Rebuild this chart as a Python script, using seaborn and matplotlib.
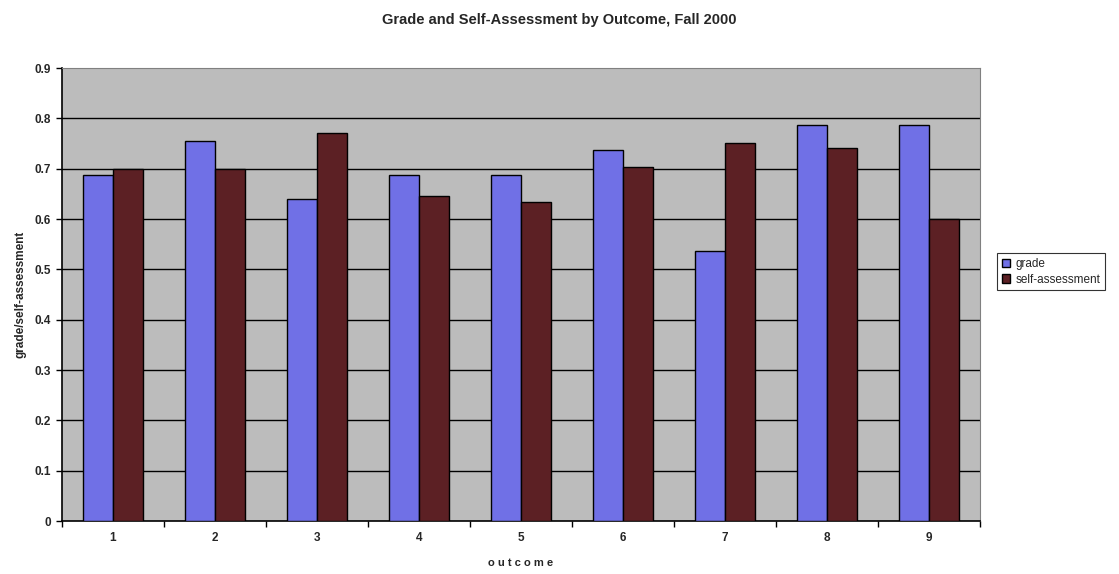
import seaborn as sns
import pandas as pd
import numpy as np
import matplotlib.pyplot as plt
from matplotlib.ticker import FixedLocator

# values
outcomes = ["1", "2", "3", "4", "5", "6", "7", "8", "9"]
grade = [0.688, 0.755, 0.640, 0.688, 0.688, 0.738, 0.537, 0.786, 0.786]
self_assessment = [0.700, 0.699, 0.771, 0.645, 0.633, 0.704, 0.752, 0.741, 0.600]
series = ["grade", "self-assessment"]
colors = ["#7070e6", "#5c2024"]

df = pd.DataFrame({
    "outcome": outcomes * 2,
    "value": grade + self_assessment,
    "series": [series[0]] * len(outcomes) + [series[1]] * len(outcomes),
})

sns.set_style("white")
plt.rcParams["font.family"] = ["Liberation Sans", "DejaVu Sans"]

fig = plt.figure(figsize=(11.19, 5.74), dpi=100)
ax = fig.add_axes([0.0554, 0.0923, 0.8204, 0.789])
ax.set_facecolor("#bcbcbc")

sns.barplot(data=df, x="outcome", y="value", hue="series", palette=colors,
            width=0.59, edgecolor="black", linewidth=1.0, saturation=1,
            ax=ax, zorder=3, legend=True)

ax.set_ylim(0, 0.9)
ax.set_xlim(-0.5, len(outcomes) - 0.5)
ax.set_yticks(np.arange(0, 0.91, 0.1))
ax.set_yticklabels(["0"] + ["%.1f" % v for v in np.arange(0.1, 0.91, 0.1)])
for v in np.arange(0.1, 0.85, 0.1):
    ax.axhline(v, color="black", linewidth=1.0, zorder=1)

# tick marks between categories, labels at centres
ax.xaxis.set_minor_locator(FixedLocator(np.arange(-0.5, len(outcomes), 1.0)))
ax.tick_params(axis="x", which="major", length=0, pad=8, labelsize=8.5)
ax.tick_params(axis="x", which="minor", length=4, width=1, color="black", direction="out", bottom=True)
ax.tick_params(axis="y", length=4, width=1, color="black", direction="out", left=True, labelsize=8.5, pad=4)
for lab in ax.get_xticklabels() + ax.get_yticklabels():
    lab.set_fontweight("bold")

for side in ["left", "bottom"]:
    ax.spines[side].set_color("black")
    ax.spines[side].set_linewidth(1.2)
for side in ["top", "right"]:
    ax.spines[side].set_color("#808080")
    ax.spines[side].set_linewidth(0.8)

ax.set_xlabel("o u t c o m e", fontsize=8, fontweight="bold", labelpad=10)
ax.set_ylabel("grade/self-assessment", fontsize=8.5, fontweight="bold", labelpad=6)
fig.suptitle("Grade and Self-Assessment by Outcome, Fall 2000", fontsize=10.5,
             fontweight="bold", x=0.5, y=0.978)

leg = ax.legend(loc="center left", bbox_to_anchor=(1.012, 0.55), fontsize=8.5,
                frameon=True, fancybox=False, edgecolor="black", handlelength=0.7,
                handleheight=0.7, handletextpad=0.5, borderpad=0.4, labelspacing=0.3)
leg.get_frame().set_linewidth(0.8)

fig.savefig("out.png", dpi=100)
